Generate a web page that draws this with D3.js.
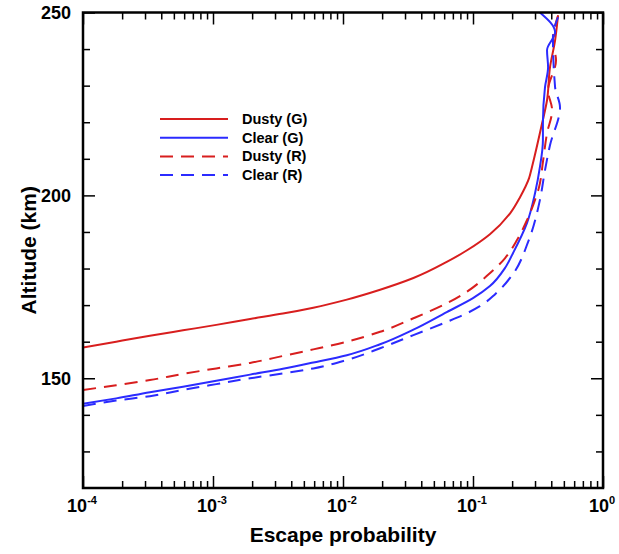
<!DOCTYPE html>
<html>
<head>
<meta charset="utf-8">
<script src="https://cdn.jsdelivr.net/npm/d3@7"></script>
<style>
  body { margin: 0; background: #fff; }
  text { font-family: "Liberation Sans", Arial, sans-serif; font-weight: bold; fill: #000; }
</style>
</head>
<body>
<svg width="619" height="554"></svg>
<script>
// escape probability vs altitude (km)
var dustyG_p   = [1e-4, 1.8e-4, 3.27e-4, 5.88e-4, 1.06e-3, 1.93e-3, 3.45e-3, 5.91e-3, 1.07e-2, 1.93e-2, 3.48e-2, 6.28e-2, 0.090, 0.135, 0.193, 0.230, 0.270, 0.284, 0.340, 0.371, 0.391, 0.428, 0.451];
var dustyG_alt = [158.4, 160.0, 161.6, 163.1, 164.6, 166.2, 167.7, 169.3, 171.5, 174.2, 177.4, 181.8, 185.0, 189.4, 195.1, 199.5, 204.7, 207.7, 219.7, 226.0, 235.0, 242.4, 249.2];

var clearG_p   = [1e-4, 1.8e-4, 3.27e-4, 5.88e-4, 1.06e-3, 1.93e-3, 3.45e-3, 5.91e-3, 1.07e-2, 1.93e-2, 3.48e-2, 6.28e-2, 0.100, 0.135, 0.176, 0.203, 0.260, 0.300, 0.327, 0.345, 0.345, 0.358, 0.378, 0.371, 0.428, 0.327];
var clearG_alt = [143.0, 144.5, 146.2, 147.7, 149.3, 151.0, 152.6, 154.3, 156.3, 159.3, 163.3, 168.1, 171.9, 175.2, 180.1, 184.2, 192.4, 200.6, 207.7, 215.1, 219.7, 229.6, 235.0, 239.7, 244.6, 250.0];

var dustyR_p   = [1e-4, 1.8e-4, 3.27e-4, 5.88e-4, 1.06e-3, 1.93e-3, 3.45e-3, 5.91e-3, 1.07e-2, 1.93e-2, 3.48e-2, 6.28e-2, 0.090, 0.130, 0.176, 0.218, 0.260, 0.294, 0.322, 0.345, 0.371, 0.406, 0.378, 0.435, 0.412, 0.451];
var dustyR_alt = [146.8, 148.1, 149.5, 151.2, 152.7, 154.2, 156.1, 157.9, 160.0, 162.7, 166.4, 170.5, 173.7, 178.2, 182.8, 187.8, 193.2, 197.9, 202.2, 209.1, 217.0, 223.3, 228.7, 236.9, 242.4, 249.2];

var clearR_p   = [1e-4, 1.8e-4, 3.27e-4, 5.88e-4, 1.06e-3, 1.93e-3, 3.45e-3, 5.91e-3, 1.07e-2, 1.93e-2, 3.48e-2, 6.28e-2, 0.090, 0.113, 0.148, 0.203, 0.265, 0.327, 0.358, 0.391, 0.467, 0.428, 0.412, 0.451];
var clearR_alt = [142.4, 143.9, 145.1, 146.8, 148.4, 150.0, 151.3, 152.7, 155.0, 158.2, 161.8, 165.4, 167.8, 169.7, 173.0, 178.5, 187.2, 198.7, 206.9, 213.7, 224.1, 229.6, 243.2, 248.7];

var xMajor = [1e-4, 1e-3, 1e-2, 1e-1, 1];
var xExp   = ["-4", "-3", "-2", "-1", "0"];
var yMajor = [150, 200, 250];
var yMinor = [130, 140, 160, 170, 180, 190, 210, 220, 230, 240];

var series = [
  {name: "Dusty (G)", p: dustyG_p, alt: dustyG_alt, color: "#d81e1e", dash: null},
  {name: "Clear (G)", p: clearG_p, alt: clearG_alt, color: "#2b2bff", dash: null},
  {name: "Dusty (R)", p: dustyR_p, alt: dustyR_alt, color: "#d81e1e", dash: "13,8"},
  {name: "Clear (R)", p: clearR_p, alt: clearR_alt, color: "#2b2bff", dash: "13,8"}
];

var svg = d3.select("svg");
var plotL = 83, plotR = 603, plotT = 12.5, plotB = 488;

var x = d3.scaleLog().domain([1e-4, 1]).range([plotL, plotR]);
var y = d3.scaleLinear().domain([120, 250]).range([plotB, plotT]);

var xMinor = x.ticks().filter(function(d) {
  return Math.abs(Math.log10(d) - Math.round(Math.log10(d))) > 1e-6;
});

svg.append("clipPath").attr("id", "plot")
  .append("rect").attr("x", plotL).attr("y", plotT)
  .attr("width", plotR - plotL).attr("height", plotB - plotT);

// curves
var line = d3.line()
    .x(function(d) { return x(d[0]); })
    .y(function(d) { return y(d[1]); })
    .curve(d3.curveMonotoneY);

svg.append("g")
    .attr("clip-path", "url(#plot)")
  .selectAll("path")
  .data(series)
  .enter().append("path")
    .attr("d", function(s) { return line(d3.zip(s.p, s.alt)); })
    .attr("fill", "none")
    .attr("stroke", function(s) { return s.color; })
    .attr("stroke-width", 2)
    .attr("stroke-dasharray", function(s) { return s.dash; });

// ticks, all pointing inward
function tickAxis(axis, tx, ty) {
  var g = svg.append("g").attr("transform", "translate(" + tx + "," + ty + ")").call(axis);
  g.select(".domain").remove();
  g.selectAll("text").remove();
  g.selectAll("line").attr("stroke", "#000").attr("stroke-width", 1.5);
  return g;
}

tickAxis(d3.axisBottom(x).tickValues(xMajor).tickSize(-12), 0, plotB);
tickAxis(d3.axisBottom(x).tickValues(xMinor).tickSize(-7), 0, plotB);
tickAxis(d3.axisTop(x).tickValues(xMajor).tickSize(-12), 0, plotT);
tickAxis(d3.axisTop(x).tickValues(xMinor).tickSize(-7), 0, plotT);
tickAxis(d3.axisLeft(y).tickValues(yMajor).tickSize(-12), plotL, 0);
tickAxis(d3.axisLeft(y).tickValues(yMinor).tickSize(-7), plotL, 0);
tickAxis(d3.axisRight(y).tickValues(yMajor).tickSize(-12), plotR, 0);
tickAxis(d3.axisRight(y).tickValues(yMinor).tickSize(-7), plotR, 0);

svg.append("rect")
    .attr("x", plotL).attr("y", plotT)
    .attr("width", plotR - plotL).attr("height", plotB - plotT)
    .attr("fill", "none").attr("stroke", "#000").attr("stroke-width", 2.5);

// tick labels
svg.append("g").selectAll("text")
  .data(yMajor)
  .enter().append("text")
    .attr("x", plotL - 12)
    .attr("y", function(d) { return y(d); })
    .attr("dy", "0.35em")
    .attr("text-anchor", "end")
    .style("font-size", "18px")
    .text(function(d) { return d; });

var xl = svg.append("g").selectAll("text")
  .data(xMajor)
  .enter().append("text")
    .attr("x", function(d) { return x(d) - 1; })
    .attr("y", plotB + 24)
    .attr("text-anchor", "middle")
    .style("font-size", "18px");
xl.append("tspan").text("10");
xl.append("tspan")
    .attr("dy", -8)
    .style("font-size", "11px")
    .text(function(d, i) { return xExp[i]; });

// axis titles
svg.append("text")
    .attr("x", (plotL + plotR) / 2)
    .attr("y", 542)
    .attr("text-anchor", "middle")
    .style("font-size", "21px")
    .text("Escape probability");

svg.append("text")
    .attr("transform", "translate(36," + y(185) + ") rotate(-90)")
    .attr("text-anchor", "middle")
    .style("font-size", "21px")
    .text("Altitude (km)");

// legend
var legend = svg.append("g").selectAll("g")
  .data(series)
  .enter().append("g")
    .attr("transform", function(d, i) { return "translate(160," + (119 + i * 18.7) + ")"; });

legend.append("line")
    .attr("x1", 0).attr("x2", 68)
    .attr("stroke", function(s) { return s.color; })
    .attr("stroke-width", 2)
    .attr("stroke-dasharray", function(s) { return s.dash; });

legend.append("text")
    .attr("x", 82)
    .attr("dy", "0.35em")
    .style("font-size", "14.5px")
    .text(function(s) { return s.name; });
</script>
</body>
</html>
